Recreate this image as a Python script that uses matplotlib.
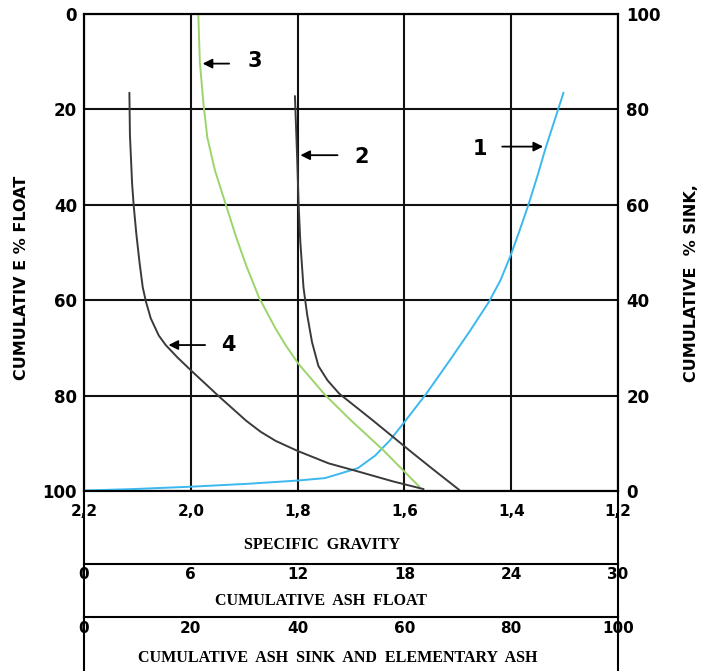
import numpy as np
import matplotlib.pyplot as plt
from matplotlib.transforms import blended_transform_factory

# curve data: specific gravity vs cumulative % float
c1_sg = [1.302, 1.335, 1.351, 1.368, 1.384, 1.401, 1.420, 1.442, 1.477, 1.515, 1.559,
         1.601, 1.628, 1.655, 1.687, 1.719, 1.749, 1.799, 1.895, 2.000, 2.109, 2.200]
c1_fl = [16.5, 27.9, 34.0, 40.1, 45.3, 50.6, 55.8, 60.4, 66.4, 72.6, 79.6,
         85.7, 89.5, 92.6, 95.2, 96.3, 97.3, 97.8, 98.5, 99.1, 99.6, 99.9]

c2_sg = [1.805, 1.801, 1.798, 1.795, 1.789, 1.782, 1.773, 1.761, 1.744, 1.722, 1.695,
         1.658, 1.622, 1.585, 1.547, 1.497]
c2_fl = [17.2, 29.6, 40.1, 47.6, 57.3, 63.1, 68.8, 73.8, 76.8, 79.6, 82.0,
         85.3, 88.6, 92.0, 95.4, 99.8]

c3_sg = [1.986, 1.983, 1.976, 1.969, 1.955, 1.936, 1.915, 1.896, 1.872, 1.841, 1.822,
         1.798, 1.749, 1.701, 1.640, 1.572]
c3_fl = [0.0, 10.2, 19.2, 25.9, 32.7, 39.4, 46.8, 52.8, 59.5, 66.0, 69.5,
         73.4, 79.8, 85.1, 91.4, 99.1]

c4_sg = [2.115, 2.114, 2.110, 2.107, 2.102, 2.096, 2.090, 2.084, 2.075, 2.060, 2.047,
         2.025, 1.998, 1.970, 1.948, 1.924, 1.896, 1.869, 1.841, 1.800, 1.742, 1.687,
         1.621, 1.564]
c4_fl = [16.5, 25.3, 35.4, 40.1, 46.1, 52.1, 57.3, 60.3, 63.8, 67.4, 69.4,
         72.0, 74.9, 77.8, 80.1, 82.5, 85.3, 87.6, 89.5, 91.6, 94.2, 95.9,
         98.0, 99.6]

sg_ticks = [2.2, 2.0, 1.8, 1.6, 1.4, 1.2]
sg_labels = ['2,2', '2,0', '1,8', '1,6', '1,4', '1,2']
float_ticks = [0, 20, 40, 60, 80, 100]
sink_ticks = [0, 20, 40, 60, 80, 100]
ash_float_ticks = [0, 6, 12, 18, 24, 30]
ash_sink_ticks = [0, 20, 40, 60, 80, 100]

W, H = 704, 671
fig = plt.figure(figsize=(W / 100, H / 100), dpi=100)

bold = dict(fontfamily='DejaVu Sans', fontweight='bold')
serif = dict(fontfamily='Liberation Serif', fontweight='bold')

# main chart
ax = fig.add_axes([84 / W, 1 - 491 / H, 534 / W, 477 / H])
ax.set_xlim(2.2, 1.2)
ax.set_ylim(100, 0)
ax.set_xticks(sg_ticks)
ax.set_xticklabels(sg_labels)
ax.set_yticks(float_ticks)
ax.grid(True, color='#111111', lw=1.5)
ax.tick_params(length=0)
ax.tick_params(axis='y', pad=5, labelsize=12)
ax.tick_params(axis='x', pad=9, labelsize=11)
for lab in ax.get_xticklabels() + ax.get_yticklabels():
    lab.set_fontweight('bold')
for s in ax.spines.values():
    s.set_linewidth(1.5)

ax2 = ax.twinx()
ax2.set_ylim(0, 100)
ax2.set_yticks(sink_ticks)
ax2.tick_params(length=0, pad=6, labelsize=12)
for lab in ax2.get_yticklabels():
    lab.set_fontweight('bold')
for s in ax2.spines.values():
    s.set_linewidth(1.5)

line_kw = dict(lw=1.4, zorder=3, solid_joinstyle='round', solid_capstyle='round')
ax.plot(c1_sg, c1_fl, color='#3bb8ef', **line_kw)
ax.plot(c2_sg, c2_fl, color='#3a3a3a', **line_kw)
ax.plot(c3_sg, c3_fl, color='#9cd46c', **line_kw)
ax.plot(c4_sg, c4_fl, color='#3a3a3a', **line_kw)

# arrows with curve numbers
arr = dict(arrowstyle='-|>', color='black', lw=1.3, mutation_scale=14)
ax.annotate('', xy=(1.335, 27.8), xytext=(1.422, 27.8), arrowprops=arr, zorder=4)
ax.annotate('', xy=(1.800, 29.6), xytext=(1.720, 29.6), arrowprops=arr, zorder=4)
ax.annotate('', xy=(1.983, 10.4), xytext=(1.923, 10.4), arrowprops=arr, zorder=4)
ax.annotate('', xy=(2.047, 69.4), xytext=(1.968, 69.4), arrowprops=arr, zorder=4)
for lab, x, y in [('1', 1.458, 28.2), ('2', 1.681, 30.0), ('3', 1.880, 9.8), ('4', 1.929, 69.4)]:
    ax.text(x, y, lab, fontsize=15, ha='center', va='center', **bold)

fig.text(22 / W, 1 - 278 / H, 'CUMULATIV E % FLOAT', rotation=90, ha='center', va='center',
         fontsize=11.5, **bold)
fig.text(692 / W, 1 - 283 / H, 'CUMULATIVE  % SINK,', rotation=90, ha='center', va='center',
         fontsize=11.5, **bold)

# scale boxes underneath
def box(y_top, y_bot, lim, bottom=True):
    b = fig.add_axes([84 / W, 1 - y_bot / H, 534 / W, (y_bot - y_top) / H])
    b.set_xlim(*lim)
    b.set_ylim(0, 1)
    b.set_xticks([])
    b.set_yticks([])
    b.patch.set_alpha(0)
    for s in b.spines.values():
        s.set_linewidth(1.5)
    b.spines['top'].set_visible(False)
    b.spines['bottom'].set_visible(bottom)
    return b

b1 = box(491, 564, (2.2, 1.2))
b1.text(0.446, 0.26, 'SPECIFIC  GRAVITY', transform=b1.transAxes, ha='center', va='center',
        fontsize=11.5, **serif)

b2 = box(564, 617, (0, 30))
tr2 = blended_transform_factory(b2.transData, b2.transAxes)
for t in ash_float_ticks:
    b2.text(t, 0.8, str(t), transform=tr2, ha='center', va='center', fontsize=11, **bold)
b2.text(0.444, 0.31, 'CUMULATIVE  ASH  FLOAT', transform=b2.transAxes, ha='center', va='center',
        fontsize=11.5, **serif)

b3 = box(617, 671, (0, 100), bottom=False)
tr3 = blended_transform_factory(b3.transData, b3.transAxes)
for t in ash_sink_ticks:
    b3.text(t, 0.78, str(t), transform=tr3, ha='center', va='center', fontsize=11, **bold)
b3.text(0.476, 0.24, 'CUMULATIVE  ASH  SINK  AND  ELEMENTARY  ASH', transform=b3.transAxes,
        ha='center', va='center', fontsize=11.5, **serif)

fig.savefig('out.png', dpi=100)
